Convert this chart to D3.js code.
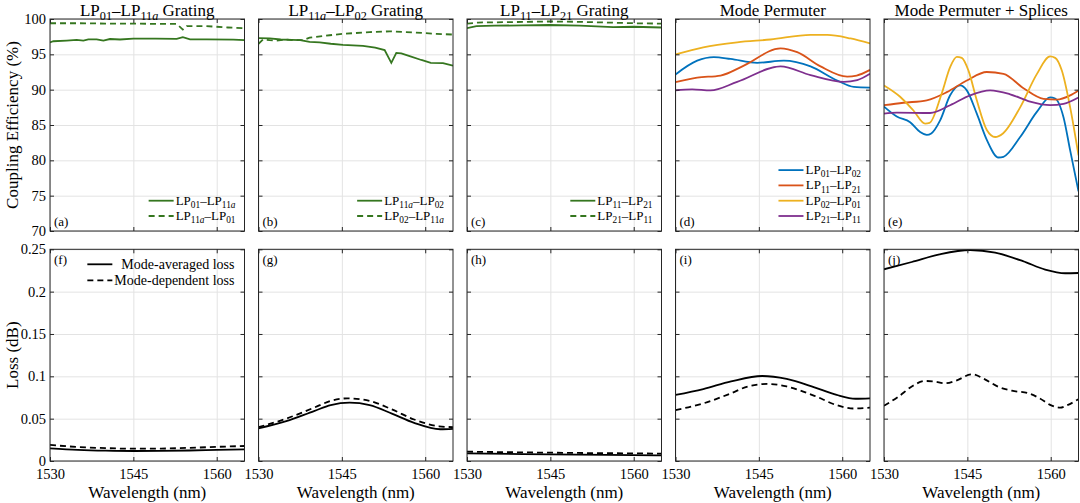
<!DOCTYPE html>
<meta charset="utf-8">
<head>
    <script type="text/javascript" src="https://cdn.jsdelivr.net/npm/d3@7"></script>
    <style>
        body { margin: 0; background: #fff; }
    </style>
    <title>Coupling efficiency and loss</title>
</head>
<body>
<script>

    // ---- tick labels ----
    var wavelengthTicks = [1530, 1545, 1560];
    var ceTicks = [70, 75, 80, 85, 90, 95, 100];
    var lossTicks = [0, 0.05, 0.1, 0.15, 0.2, 0.25];

    // ---- (a) LP01-LP11a grating ----
    var gratA_fwd = [[1530,96.7],[1530.6,96.85],[1533,96.95],[1534.8,97.05],[1536,96.95],[1536.9,97.12],
        [1538.4,97.12],[1539.6,96.95],[1540.8,97.17],[1542.6,97.1],[1545,97.22],[1549,97.22],[1552.8,97.2],
        [1553.9,97.42],[1555.2,97.12],[1558.2,97.12],[1563,97.08],[1565,97.0]];
    var gratA_bwd = [[1530,99.4],[1535,99.4],[1540,99.35],[1545,99.35],[1550,99.3],[1552.8,99.3],
        [1553.9,98.5],[1554.6,99.0],[1558,99.0],[1560,98.9],[1562,98.8],[1565,98.7]];

    // ---- (b) LP11a-LP02 grating ----
    var gratB_fwd = [[1530,97.3],[1532,97.25],[1534,97.1],[1536,97.05],[1537.5,97.0],[1539.2,96.75],
        [1541,96.7],[1543,96.5],[1545.2,96.35],[1548.8,96.2],[1551,95.95],[1552.7,95.6],[1553.9,93.8],
        [1554.8,95.2],[1555.7,95.15],[1557.2,94.75],[1559.3,94.2],[1561,93.8],[1563.2,93.75],[1565,93.4]];
    var gratB_bwd = [[1530,96.5],[1530.8,97.1],[1532,97.0],[1533.2,96.95],[1535,97.1],[1536.5,97.0],
        [1538,97.0],[1539.2,97.35],[1542.8,97.7],[1545.2,97.9],[1550,98.15],[1553.6,98.25],[1557.8,98.1],
        [1562,97.9],[1565,97.8]];

    // ---- (c) LP11-LP21 grating ----
    var gratC_fwd = [[1530,98.7],[1531.7,99.0],[1535,99.05],[1540,99.1],[1544.9,99.15],[1550.3,99.05],
        [1556.3,98.85],[1560,98.9],[1565,98.8]];
    var gratC_bwd = [[1530,99.35],[1532,99.5],[1537,99.55],[1544.9,99.65],[1550,99.6],[1555,99.5],
        [1560,99.4],[1565,99.35]];

    // ---- (d) mode permuter ----
    var perm_01_02 = [[1530,92.15],[1533.9,94.1],[1536.9,94.6],[1539.9,94.35],[1544.7,93.8],[1549.5,94.1],
        [1554.3,93.3],[1559.1,91.3],[1562.1,90.4],[1565,90.3]];
    var perm_11_21 = [[1530,91.05],[1533.9,91.7],[1538.1,92.0],[1542.3,93.4],[1548.9,95.85],[1551.9,95.3],
        [1556.1,93.3],[1560.9,91.85],[1562.6,92.0],[1565,92.8]];
    var perm_02_01 = [[1530,95.0],[1535,96.0],[1541.1,96.7],[1547.1,97.1],[1554.3,97.75],[1557.3,97.75],
        [1561.5,97.25],[1565,96.55]];
    var perm_21_11 = [[1530,89.9],[1533,90.05],[1536.3,89.9],[1541.1,91.1],[1548.9,93.3],[1554.3,92.05],
        [1560.3,91.1],[1562.7,91.35],[1565,92.25]];

    // ---- (e) mode permuter + splices ----
    var splc_01_02 = [[1530,87.6],[1532.3,86.2],[1534.7,85.4],[1536.5,84.0],[1537.7,83.6],[1538.5,83.8],
        [1540.1,85.65],[1541.9,89.2],[1543.7,90.6],[1544.9,89.9],[1546.7,86.6],[1548.5,82.9],[1550.6,80.4],
        [1551.5,80.5],[1554.5,83.3],[1557.5,86.85],[1559.9,88.9],[1560.8,88.75],[1562.3,86.1],[1563.5,81.4],
        [1565,75.6]];
    var splc_11_21 = [[1530,87.8],[1533.5,88.15],[1537.7,88.5],[1541.3,89.65],[1544.9,91.3],[1548.5,92.5],
        [1551.5,92.25],[1555.1,90.2],[1558.7,88.7],[1561.1,88.6],[1563.5,89.2],[1565,89.9]];
    var splc_02_01 = [[1530,90.6],[1532.9,89.0],[1535.3,87.05],[1537.4,85.2],[1538.2,85.3],[1540.4,89.5],
        [1541.9,93.2],[1543.1,94.65],[1544,94.5],[1545.2,92.7],[1546.7,88.5],[1548.5,84.3],[1550,83.3],
        [1551.4,83.8],[1554.5,87.5],[1557.5,92.2],[1559.9,94.7],[1560.8,94.5],[1562,92.7],[1563.5,87.5],
        [1565,80.7]];
    var splc_21_11 = [[1530,86.6],[1532.3,86.75],[1538.3,86.7],[1541.9,87.8],[1545.5,89.2],[1549.1,89.9],
        [1552.7,89.35],[1556.3,88.3],[1559.9,87.8],[1562.3,88.0],[1565,88.9]];

    // ---- loss (f)-(j): mode-averaged / mode-dependent ----
    var lossF_mal = [[1530,0.015],[1535,0.0132],[1540,0.0122],[1545,0.0118],[1550,0.0119],[1555,0.0124],[1560,0.0132],[1565,0.0138]];
    var lossF_mdl = [[1530,0.019],[1535,0.0165],[1540,0.0152],[1545,0.0145],[1550,0.0147],[1555,0.0155],[1560,0.0167],[1565,0.0177]];
    var lossG_mal = [[1530,0.0385],[1535,0.047],[1540,0.059],[1543,0.066],[1546.4,0.0689],[1550,0.066],[1554,0.056],[1558,0.045],[1562.7,0.0375],[1565,0.038]];
    var lossG_mdl = [[1530,0.04],[1535,0.05],[1540,0.063],[1543,0.071],[1546,0.074],[1550,0.071],[1554,0.061],[1558,0.049],[1562.5,0.041],[1565,0.04]];
    var lossH_mal = [[1530,0.009],[1540,0.0082],[1550,0.0075],[1560,0.007],[1565,0.0067]];
    var lossH_mdl = [[1530,0.011],[1540,0.0102],[1550,0.0095],[1560,0.009],[1565,0.0087]];
    var lossI_mal = [[1530,0.078],[1535,0.085],[1540,0.094],[1545.6,0.1004],[1550,0.097],[1555,0.087],[1559,0.078],[1562.4,0.0735],[1565,0.074]];
    var lossI_mdl = [[1530,0.0602],[1535,0.068],[1540,0.08],[1543,0.088],[1546.7,0.091],[1550,0.088],[1555,0.077],[1559,0.066],[1562,0.062],[1565,0.063]];
    var lossJ_mal = [[1530,0.2264],[1535,0.235],[1540,0.244],[1545.5,0.2492],[1550,0.246],[1555,0.236],[1559,0.226],[1562.6,0.2217],[1565,0.222]];
    var lossJ_mdl = [[1530,0.0653],[1532.6,0.076],[1535,0.088],[1537.4,0.0945],[1539,0.094],[1541,0.0918],[1543,0.095],
        [1545.8,0.1024],[1548,0.097],[1550.5,0.0878],[1553,0.083],[1556,0.08],[1558,0.074],[1560,0.066],[1561.7,0.063],
        [1563,0.066],[1565,0.073]];

    // styles
    var FONT = "'Liberation Serif', serif";
    var green = "#35761f", blue = "#0072bd", red = "#d95319", yellow = "#edb120", purple = "#7e2f8e";
    var dash = "6,4";

    var topPanels = [
        {title: "LP_{01}–LP_{11a} Grating", label: "(a)", smooth: false, series: [
            {data: gratA_fwd, color: green, name: "LP_{01}–LP_{11a}"},
            {data: gratA_bwd, color: green, dash: dash, name: "LP_{11a}–LP_{01}"}]},
        {title: "LP_{11a}–LP_{02} Grating", label: "(b)", smooth: false, series: [
            {data: gratB_fwd, color: green, name: "LP_{11a}–LP_{02}"},
            {data: gratB_bwd, color: green, dash: dash, name: "LP_{02}–LP_{11a}"}]},
        {title: "LP_{11}–LP_{21} Grating", label: "(c)", smooth: false, series: [
            {data: gratC_fwd, color: green, name: "LP_{11}–LP_{21}"},
            {data: gratC_bwd, color: green, dash: dash, name: "LP_{21}–LP_{11}"}]},
        {title: "Mode Permuter", label: "(d)", smooth: true, series: [
            {data: perm_01_02, color: blue, name: "LP_{01}–LP_{02}"},
            {data: perm_11_21, color: red, name: "LP_{11}–LP_{21}"},
            {data: perm_02_01, color: yellow, name: "LP_{02}–LP_{01}"},
            {data: perm_21_11, color: purple, name: "LP_{21}–LP_{11}"}]},
        {title: "Mode Permuter + Splices", label: "(e)", smooth: true, series: [
            {data: splc_01_02, color: blue},
            {data: splc_11_21, color: red},
            {data: splc_02_01, color: yellow},
            {data: splc_21_11, color: purple}]}
    ];
    var bottomPanels = [
        {label: "(f)", legend: true, series: [lossF_mal, lossF_mdl]},
        {label: "(g)", series: [lossG_mal, lossG_mdl]},
        {label: "(h)", series: [lossH_mal, lossH_mdl]},
        {label: "(i)", series: [lossI_mal, lossI_mdl]},
        {label: "(j)", series: [lossJ_mal, lossJ_mdl]}
    ];

    // layout
    var W = 1080, H = 503;
    var panelLeft0 = 50, panelStep = 208.5, panelW = 194.5;
    var topRow = {y0: 19, y1: 231};
    var botRow = {y0: 249.3, y1: 461};

    var svg = d3.select("body").append("svg")
        .attr("width", W).attr("height", H)
        .style("font-family", FONT);

    var x = d3.scaleLinear().domain([1530, 1565]).range([0, panelW]);
    var yCE = d3.scaleLinear().domain([70, 100]).range([topRow.y1 - topRow.y0, 0]);
    var yLoss = d3.scaleLinear().domain([0, 0.25]).range([botRow.y1 - botRow.y0, 0]);

    // text with _{sub} parts; letters in subscripts are italic
    function rich(sel, str, fs) {
        var parts = str.split(/(_\{[^}]*\})/).filter(function (s) { return s.length; });
        var shift = fs * 0.24, shifted = false;
        parts.forEach(function (p) {
            if (p.indexOf("_{") === 0) {
                p.slice(2, -1).match(/[0-9]+|[a-z]+/g).forEach(function (c) {
                    var t = sel.append("tspan").text(c).attr("font-size", fs * 0.72);
                    if (/[a-z]/.test(c)) t.attr("font-style", "italic");
                    if (!shifted) { t.attr("dy", shift); shifted = true; }
                });
            } else {
                var t = sel.append("tspan").text(p);
                if (shifted) { t.attr("dy", -shift); shifted = false; }
            }
        });
    }

    function drawGrid(g, y, h, yTicks) {
        g.append("g").attr("class", "grid")
            .call(d3.axisBottom(x).tickValues(wavelengthTicks).tickSize(-h).tickFormat(""))
            .attr("transform", "translate(0," + h + ")");
        g.append("g").attr("class", "grid")
            .call(d3.axisLeft(y).tickValues(yTicks).tickSize(-panelW).tickFormat(""));
        g.selectAll(".grid .domain").remove();
        g.selectAll(".grid line").attr("stroke", "#e3e3e3").attr("stroke-width", 1);
    }

    function drawAxes(g, y, h, showX, showY, yFmt, yTicks) {
        var ax = [
            g.append("g").attr("transform", "translate(0," + h + ")")
                .call(d3.axisBottom(x).tickValues(wavelengthTicks).tickSizeInner(-4).tickSizeOuter(0).tickPadding(8)
                    .tickFormat(showX ? d3.format("d") : "")),
            g.append("g")
                .call(d3.axisTop(x).tickValues(wavelengthTicks).tickSizeInner(-4).tickSizeOuter(0).tickFormat("")),
            g.append("g")
                .call(d3.axisLeft(y).tickValues(yTicks).tickSizeInner(-4).tickSizeOuter(0).tickPadding(4)
                    .tickFormat(showY ? yFmt : "")),
            g.append("g").attr("transform", "translate(" + panelW + ",0)")
                .call(d3.axisRight(y).tickValues(yTicks).tickSizeInner(-4).tickSizeOuter(0).tickFormat(""))
        ];
        ax.forEach(function (a) {
            a.attr("font-family", null);
            a.select(".domain").remove();
            a.selectAll("line").attr("stroke", "#262626");
            a.selectAll("text").style("font-family", FONT).attr("font-size", 14.5).attr("fill", "#000");
        });
        g.append("rect").attr("width", panelW).attr("height", h)
            .attr("fill", "none").attr("stroke", "#262626").attr("stroke-width", 1);
    }

    function lineGen(y, smooth) {
        return d3.line().x(function (d) { return x(d[0]); }).y(function (d) { return y(d[1]); })
            .curve(smooth ? d3.curveMonotoneX : d3.curveLinear);
    }

    // clip
    svg.append("clipPath").attr("id", "clipTop").append("rect")
        .attr("width", panelW).attr("height", topRow.y1 - topRow.y0);
    svg.append("clipPath").attr("id", "clipBot").append("rect")
        .attr("width", panelW).attr("height", botRow.y1 - botRow.y0);

    // top row
    topPanels.forEach(function (p, i) {
        var h = topRow.y1 - topRow.y0;
        var left = panelLeft0 + i * panelStep;
        var g = svg.append("g").attr("transform", "translate(" + left + "," + topRow.y0 + ")");
        drawGrid(g, yCE, h, ceTicks);

        var plot = g.append("g").attr("clip-path", "url(#clipTop)");
        var line = lineGen(yCE, p.smooth);
        p.series.forEach(function (s) {
            plot.append("path").datum(s.data).attr("d", line)
                .attr("fill", "none").attr("stroke", s.color).attr("stroke-width", 1.8)
                .attr("stroke-dasharray", s.dash || null);
        });

        drawAxes(g, yCE, h, false, i === 0, d3.format("d"), ceTicks);

        // title
        var t = svg.append("text").attr("x", left + panelW / 2).attr("y", 15.5)
            .attr("text-anchor", "middle").attr("font-size", 17);
        rich(t, p.title, 17);

        g.append("text").attr("x", 4).attr("y", h - 5).attr("font-size", 13).text(p.label);

        // legend
        var named = p.series.filter(function (s) { return s.name; });
        if (named.length) {
            var rowGap = 15.3, right = panelW - 9;
            var lg = g.append("g");
            var texts = named.map(function (s, k) {
                var yy = h - 15 - (named.length - 1 - k) * rowGap;
                var tx = lg.append("text").attr("x", right).attr("y", yy + 4)
                    .attr("text-anchor", "end").attr("font-size", 13);
                rich(tx, s.name, 13);
                return {s: s, yy: yy, w: tx.node().getComputedTextLength()};
            });
            var maxW = d3.max(texts, function (d) { return d.w; });
            texts.forEach(function (d) {
                var x1 = right - maxW - 2;
                lg.append("line").attr("x1", x1 - 25).attr("x2", x1).attr("y1", d.yy).attr("y2", d.yy)
                    .attr("stroke", d.s.color).attr("stroke-width", 1.8)
                    .attr("stroke-dasharray", d.s.dash || null);
            });
        }
    });

    // bottom row
    bottomPanels.forEach(function (p, i) {
        var h = botRow.y1 - botRow.y0;
        var left = panelLeft0 + i * panelStep;
        var g = svg.append("g").attr("transform", "translate(" + left + "," + botRow.y0 + ")");
        var fmt = function (v) { return v === 0 ? "0" : d3.format("~g")(v); };
        drawGrid(g, yLoss, h, lossTicks);

        var plot = g.append("g").attr("clip-path", "url(#clipBot)");
        var line = lineGen(yLoss, true);
        p.series.forEach(function (s, k) {
            plot.append("path").datum(s).attr("d", line)
                .attr("fill", "none").attr("stroke", "#000").attr("stroke-width", 1.8)
                .attr("stroke-dasharray", k === 1 ? dash : null);
        });

        drawAxes(g, yLoss, h, true, i === 0, fmt, lossTicks);

        g.append("text").attr("x", 4).attr("y", 15).attr("font-size", 13).text(p.label);

        svg.append("text").attr("x", left + panelW / 2).attr("y", 498)
            .attr("text-anchor", "middle").attr("font-size", 17).text("Wavelength (nm)");

        if (p.legend) {
            var names = ["Mode-averaged loss", "Mode-dependent loss"];
            var right = panelW - 10;
            var ws = names.map(function (n, k) {
                var tx = g.append("text").attr("x", right).attr("y", 15 + k * 16 + 4.5)
                    .attr("text-anchor", "end").attr("font-size", 14).text(n);
                return tx.node().getComputedTextLength();
            });
            var maxW = d3.max(ws);
            names.forEach(function (n, k) {
                var x1 = right - maxW - 2;
                g.append("line").attr("x1", x1 - 25).attr("x2", x1)
                    .attr("y1", 15 + k * 16).attr("y2", 15 + k * 16)
                    .attr("stroke", "#000").attr("stroke-width", 1.8)
                    .attr("stroke-dasharray", k === 1 ? dash : null);
            });
        }
    });

    // y labels
    svg.append("text").attr("transform", "translate(18," + (topRow.y0 + topRow.y1) / 2 + ") rotate(-90)")
        .attr("text-anchor", "middle").attr("font-size", 17).text("Coupling Efficiency (%)");
    svg.append("text").attr("transform", "translate(18," + (botRow.y0 + botRow.y1) / 2 + ") rotate(-90)")
        .attr("text-anchor", "middle").attr("font-size", 17).text("Loss (dB)");

    svg.selectAll("text").style("font-family", FONT);

</script>
</body>
</html>
